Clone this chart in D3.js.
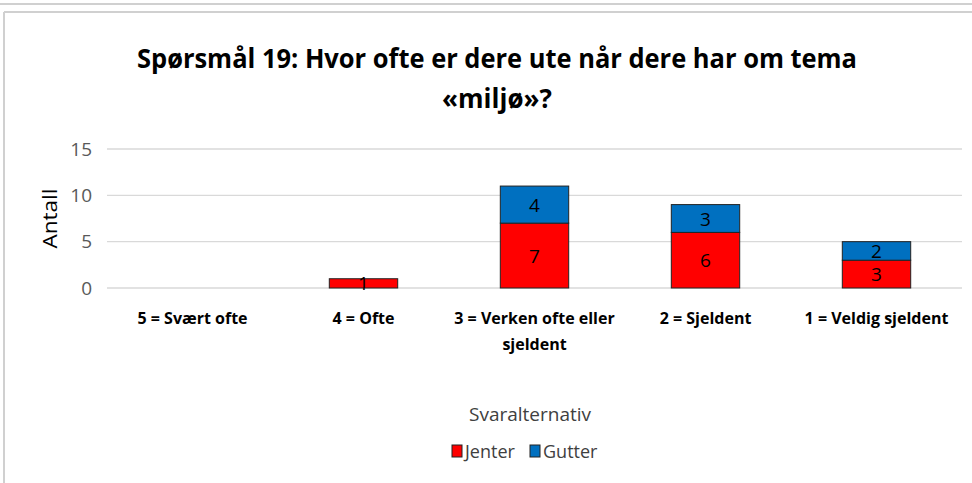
<!DOCTYPE html>
<html>
<head>
<meta charset="utf-8">
<script src="https://cdn.jsdelivr.net/npm/d3@7"></script>
<style>
  body { margin: 0; background: #fff; }
  svg { display: block; }
</style>
</head>
<body>
<script>
const categories = [
  ["5 = Svært ofte"],
  ["4 = Ofte"],
  ["3 = Verken ofte eller", "sjeldent"],
  ["2 = Sjeldent"],
  ["1 = Veldig sjeldent"]
];
const jenter = [0, 1, 7, 6, 3];
const gutter = [0, 0, 4, 3, 2];
const yTicks = [0, 5, 10, 15];
const seriesNames = ["Jenter", "Gutter"];
const colors = ["#ff0000", "#0070c0"];

const W = 972, H = 483;
const margin = { top: 149, right: 10, bottom: 195, left: 107 };
const width = W - margin.left - margin.right;
const height = H - margin.top - margin.bottom;
const font = "'Open Sans', sans-serif";

const svg = d3.select("body").append("svg").attr("width", W).attr("height", H);

// outer frame bits
svg.append("line").attr("x1", 0).attr("x2", W).attr("y1", 4).attr("y2", 4)
  .attr("stroke", "#d0d0d0").attr("stroke-width", 2);
svg.append("line").attr("x1", 4).attr("x2", W).attr("y1", 12).attr("y2", 12)
  .attr("stroke", "#d0d0d0").attr("stroke-width", 2);
svg.append("line").attr("x1", 4).attr("x2", 4).attr("y1", 12).attr("y2", H)
  .attr("stroke", "#d0d0d0").attr("stroke-width", 2);

// title
const titleLines = ["Spørsmål 19: Hvor ofte er dere ute når dere har om tema", "«miljø»?"];
svg.selectAll("text.title").data(titleLines).enter().append("text")
  .attr("class", "title")
  .attr("x", 497).attr("y", (d, i) => 68 + i * 40)
  .attr("text-anchor", "middle")
  .attr("font-family", font).attr("font-weight", "bold")
  .attr("font-size", 26).attr("fill", "#000")
  .attr("textLength", (d, i) => i === 0 ? 720 : null)
  .attr("lengthAdjust", "spacingAndGlyphs")
  .text(d => d);

const g = svg.append("g").attr("transform", `translate(${margin.left},${margin.top})`);

const x = d3.scaleBand().domain(d3.range(categories.length)).range([0, width]).paddingInner(0.6).paddingOuter(0.3);
const y = d3.scaleLinear().domain([0, 15]).range([height, 0]);

// gridlines
g.selectAll("line.grid").data(yTicks).enter().append("line")
  .attr("x1", 0).attr("x2", width)
  .attr("y1", d => y(d)).attr("y2", d => y(d))
  .attr("stroke", "#d9d9d9").attr("stroke-width", 1.3);

// y axis
const yAxis = g.append("g").call(d3.axisLeft(y).tickValues(yTicks).tickSize(0).tickPadding(15));
yAxis.select(".domain").remove();
yAxis.selectAll("text").attr("font-family", font).attr("font-size", 19).attr("fill", "#595959");

svg.append("text")
  .attr("transform", `translate(57,${margin.top + height / 2}) rotate(-90)`)
  .attr("text-anchor", "middle")
  .attr("font-family", font).attr("font-size", 20).attr("fill", "#000")
  .attr("textLength", 60).attr("lengthAdjust", "spacingAndGlyphs")
  .text("Antall");

// stacked bars
const table = categories.map((c, i) => ({ i, Jenter: jenter[i], Gutter: gutter[i] }));
const stack = d3.stack().keys(seriesNames)(table);

stack.forEach((layer, si) => {
  layer.forEach(d => {
    if (d[1] - d[0] <= 0) return;
    g.append("rect")
      .attr("x", x(d.data.i)).attr("width", x.bandwidth())
      .attr("y", y(d[1])).attr("height", y(d[0]) - y(d[1]))
      .attr("fill", colors[si]).attr("stroke", "#222").attr("stroke-width", 1);
  });
});
stack.forEach((layer) => {
  layer.forEach(d => {
    const v = d[1] - d[0];
    if (v <= 0) return;
    g.append("text")
      .attr("x", x(d.data.i) + x.bandwidth() / 2)
      .attr("y", (y(d[0]) + y(d[1])) / 2 + 7)
      .attr("text-anchor", "middle")
      .attr("font-family", font).attr("font-size", 19).attr("fill", "#000")
      .text(v);
  });
});

// x labels
categories.forEach((lines, i) => {
  const cx = x(i) + x.bandwidth() / 2;
  const t = g.append("text")
    .attr("x", cx).attr("y", height + 36)
    .attr("text-anchor", "middle")
    .attr("font-family", font).attr("font-weight", "bold")
    .attr("font-size", 16).attr("fill", "#000");
  lines.forEach((l, j) => t.append("tspan").attr("x", cx).attr("dy", j ? 26 : 0).text(l));
});

// legend
svg.append("text").attr("x", 530).attr("y", 421).attr("text-anchor", "middle")
  .attr("font-family", font).attr("font-size", 19).attr("fill", "#404040")
  .text("Svaralternativ");
const legendX = [452, 530];
seriesNames.forEach((n, i) => {
  svg.append("rect").attr("x", legendX[i]).attr("y", 445).attr("width", 10).attr("height", 12)
    .attr("fill", colors[i]).attr("stroke", "#222").attr("stroke-width", 1);
  svg.append("text").attr("x", legendX[i] + 13).attr("y", 458)
    .attr("font-family", font).attr("font-size", 18).attr("fill", "#404040")
    .text(n);
});
</script>
</body>
</html>
